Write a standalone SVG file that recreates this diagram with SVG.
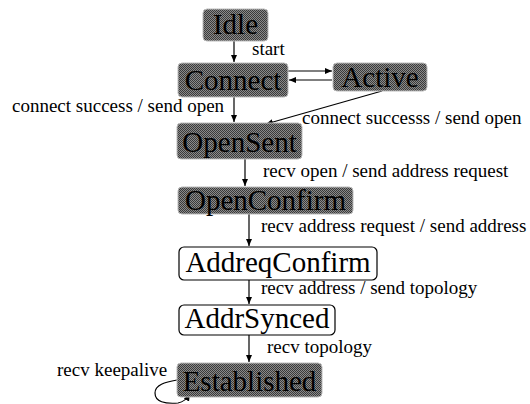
<svg xmlns="http://www.w3.org/2000/svg" width="530" height="404" viewBox="0 0 530 404" font-family="Liberation Serif">
<defs>
<pattern id="stip" width="2" height="2" patternUnits="userSpaceOnUse">
<rect width="2" height="2" fill="#8a8a8a"/>
<rect width="1" height="1" fill="#3a3a3a"/>
<rect x="1" y="1" width="1" height="1" fill="#3a3a3a"/>
</pattern>
<marker id="ah" markerWidth="8" markerHeight="8" refX="7" refY="4" orient="auto" markerUnits="userSpaceOnUse">
<path d="M0,1 L7,4 L0,7 Z" fill="#000"/>
</marker>
</defs>
<rect width="530" height="404" fill="#fff"/>
<g id="connectors" stroke="#000" stroke-width="1.2" fill="none" marker-end="url(#ah)">
<line x1="234" y1="41" x2="234" y2="62"/>
<line x1="288" y1="71" x2="332" y2="71"/>
<line x1="332" y1="80" x2="289" y2="80"/>
<line x1="234" y1="97" x2="234" y2="122"/>
<path d="M382,91 L266,124"/>
<line x1="245" y1="159" x2="245" y2="186"/>
<line x1="249" y1="214" x2="249" y2="246"/>
<line x1="249" y1="280" x2="249" y2="304"/>
<line x1="249" y1="335" x2="249" y2="362"/>
<path d="M177,380 C165,382 155,385 155,393 C155,402 165,404 178,403 C183,402 187,399 190,394"/>
</g>
<g id="labels" font-family="Liberation Serif" font-size="19" fill="#000">
<text x="252" y="55">start</text>
<text x="12" y="112">connect success / send open</text>
<text x="302" y="124">connect successs / send open</text>
<text x="263" y="177">recv open / send address request</text>
<text x="261" y="232">recv address request / send address</text>
<text x="261" y="294">recv address / send topology</text>
<text x="267" y="353">recv topology</text>
<text x="57" y="376">recv keepalive</text>
</g>
<g font-family="Liberation Serif" font-size="29" text-anchor="middle">
<g id="Idle"><rect fill="url(#stip)" stroke="#bbb" x="203" y="9" width="65" height="32" rx="4"/><text x="235.5" y="34">Idle</text></g>
<g id="Connect"><rect fill="url(#stip)" stroke="#bbb" x="178" y="63" width="110" height="34" rx="4"/><text x="233" y="90">Connect</text></g>
<g id="Active"><rect fill="url(#stip)" stroke="#bbb" x="333" y="63" width="94" height="28" rx="4"/><text x="380" y="87">Active</text></g>
<g id="OpenSent"><rect fill="url(#stip)" stroke="#bbb" x="177" y="123" width="125" height="36" rx="4"/><text x="239.5" y="152">OpenSent</text></g>
<g id="OpenConfirm"><rect fill="url(#stip)" stroke="#bbb" x="178" y="187" width="175" height="27" rx="4"/><text x="265.5" y="210">OpenConfirm</text></g>
<g id="AddreqConfirm"><rect fill="#fff" stroke="#000" stroke-width="1.2" x="179" y="247" width="198" height="33" rx="5"/><text x="278" y="272">AddreqConfirm</text></g>
<g id="AddrSynced"><rect fill="#fff" stroke="#000" stroke-width="1.2" x="179" y="305" width="156" height="30" rx="5"/><text x="257" y="328">AddrSynced</text></g>
<g id="Established"><rect fill="url(#stip)" stroke="#bbb" x="177" y="363" width="145" height="34" rx="4"/><text x="249.5" y="391">Established</text></g>
</g>
</svg>
